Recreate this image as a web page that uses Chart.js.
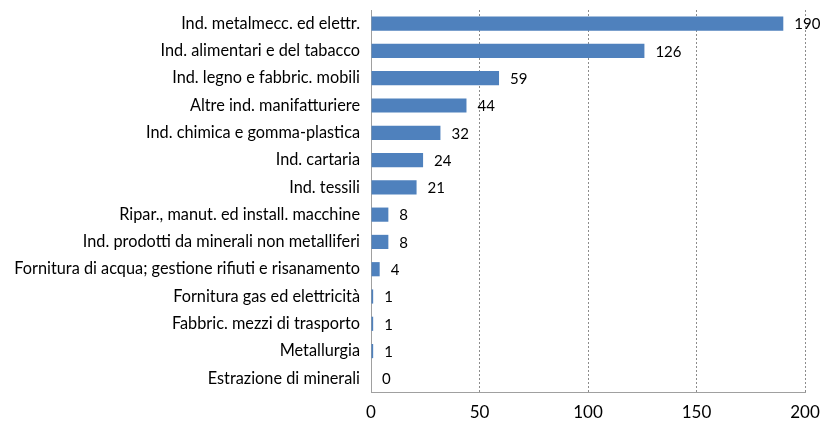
<!DOCTYPE html>
<html>
<head>
<meta charset="utf-8">
<script src="https://cdn.jsdelivr.net/npm/chart.js@4"></script>
<style>
  html, body { margin: 0; padding: 0; background: #fff; }
  #wrap { width: 821px; height: 423px; }
</style>
</head>
<body>
<div id="wrap"><canvas id="c"></canvas></div>
<script>
const categories = [
  'Ind. metalmecc. ed elettr.',
  'Ind. alimentari e del tabacco',
  'Ind. legno e fabbric. mobili',
  'Altre ind. manifatturiere',
  'Ind. chimica e gomma-plastica',
  'Ind. cartaria',
  'Ind. tessili',
  'Ripar., manut. ed install. macchine',
  'Ind. prodotti da minerali non metalliferi',
  'Fornitura di acqua; gestione rifiuti e risanamento',
  'Fornitura gas ed elettricità',
  'Fabbric. mezzi di trasporto',
  'Metallurgia',
  'Estrazione di minerali'
]
const values = [190, 126, 59, 44, 32, 24, 21, 8, 8, 4, 1, 1, 1, 0]
const xTicks = [0, 50, 100, 150, 200]

// value labels to the right of each bar
const barLabels = {
  id: 'barLabels',
  afterDatasetsDraw(chart) {
    const ctx = chart.ctx
    const meta = chart.getDatasetMeta(0)
    ctx.save()
    ctx.font = '15px Lato'
    ctx.fillStyle = '#000'
    ctx.textBaseline = 'middle'
    ctx.textAlign = 'left'
    meta.data.forEach((bar, i) => {
      ctx.fillText(String(values[i]), bar.x + 11, bar.y + 1)
    })
    ctx.restore()
  }
}

new Chart(document.getElementById('c'), {
  type: 'bar',
  data: {
    labels: categories,
    datasets: [{
      data: values,
      backgroundColor: '#4f81bd',
      borderWidth: 0,
      barPercentage: 0.52,
      categoryPercentage: 1
    }]
  },
  options: {
    indexAxis: 'y',
    responsive: true,
    maintainAspectRatio: false,
    animation: false,
    layout: { padding: { top: 10, right: 16, left: 0, bottom: 0 } },
    plugins: { legend: { display: false }, tooltip: { enabled: false } },
    scales: {
      x: {
        min: 0, max: 200,
        afterBuildTicks: (s) => { s.ticks = xTicks.map(v => ({ value: v })) },
        afterFit: (s) => { s.height = 31; s.paddingLeft = 0; s.paddingRight = 0 },
        border: { display: true, color: '#a0a0a0', width: 1, dash: [2, 2] },
        grid: {
          drawTicks: false,
          color: (c) => c.tick && c.tick.value === 0 ? 'rgba(0,0,0,0)' : '#8c8c8c',
          lineWidth: 1
        },
        ticks: { padding: 10, color: '#000', font: { family: 'Lato', size: 17 } }
      },
      y: {
        afterFit: (s) => { s.width = 371; s.paddingTop = 0; s.paddingBottom = 0 },
        border: { display: true, color: '#a0a0a0', width: 1 },
        grid: { display: false, drawTicks: false },
        ticks: { padding: 11, color: '#000', autoSkip: false, font: { family: 'Lato', size: 16.3 } }
      }
    }
  },
  plugins: [barLabels]
})
</script>
</body>
</html>
